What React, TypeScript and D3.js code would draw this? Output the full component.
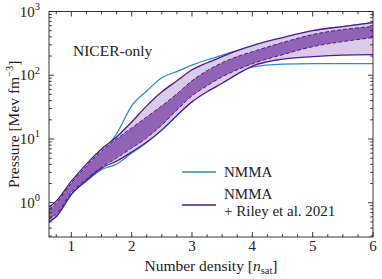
import * as d3 from 'd3'

// number density grid [n_sat]
const density = [0.63, 0.75, 1, 1.25, 1.5, 1.75, 2, 2.25, 2.5, 2.75, 3, 3.25, 3.5, 3.75, 4, 4.5, 5, 5.5, 6]

// NMMA + Riley et al. 2021, 95% band (solid) and 68% band (dashed)
const rileyOuterHi = [0.85, 1.06, 2.18, 4.04, 6.96, 10.75, 18.5, 33.1, 55, 81.9, 122, 157, 196, 243, 292, 390, 502, 581, 671]
const rileyOuterLo = [0.51, 0.61, 1.36, 2.26, 3.49, 4.5, 6.24, 8.97, 13.9, 23.4, 38.2, 55, 74.8, 104, 139, 179, 196, 207, 210]
const rileyInnerHi = [0.79, 0.98, 2.03, 3.76, 6.47, 10.0, 14.9, 22.2, 33.1, 51.1, 81.9, 118, 157, 196, 234, 325, 435, 521, 581]
const rileyInnerLo = [0.55, 0.66, 1.46, 2.34, 3.62, 5.02, 7.21, 10.4, 16.6, 28.6, 47.5, 68.4, 94.7, 122, 152, 210, 281, 337, 390]

// NMMA only envelope
const nmmaHi = [0.82, 1.02, 1.96, 3.62, 5.91, 12.0, 33.1, 56.7, 91.4, 114, 144, 175, 207, 243, 286, 383, 493, 581, 671]
const nmmaLo = [0.5, 0.6, 1.34, 2.18, 3.31, 4.04, 6.02, 8.81, 13.8, 23.6, 39.5, 56, 78, 108, 134, 149, 152, 152, 152]

const xTicks = [1, 2, 3, 4, 5, 6]
const yTicks = [0, 1, 2, 3]

const W = 382
const H = 279
const left = 49
const right = 373
const top = 11.5
const bottom = 237

const blue = '#2b8cc8'
const purple = '#4f1a8c'
const lightFill = '#dccbe8'
const darkFill = '#9163b5'
const serif = { fontFamily: 'Liberation Serif' }

export default function App() {
  const x = d3.scaleLinear([0.63, 6], [left, right])
  const y = d3.scaleLog([0.29, 1000], [bottom, top])

  const line = (vals: number[]) =>
    d3.line<number>((_, i) => x(density[i]), (v) => y(v)).curve(d3.curveMonotoneX)(vals) ?? undefined
  const band = (lo: number[], hi: number[]) =>
    d3
      .area<number>()
      .x((_, i) => x(density[i]))
      .y0((_, i) => y(lo[i]))
      .y1((_, i) => y(hi[i]))
      .curve(d3.curveMonotoneX)(lo) ?? undefined

  const xMinor = d3.range(0.75, 6.01, 0.25).filter((v) => Math.abs(v - Math.round(v)) > 1e-6)
  const yMinor: number[] = []
  for (let e = -1; e < 3; e++) for (let k = 2; k <= 9; k++) {
    const v = k * Math.pow(10, e)
    if (v >= 0.29) yMinor.push(v)
  }

  return (
    <svg width={W} height={H} style={{ position: 'absolute', left: 0, top: 0 }}>
      <defs>
        <clipPath id="plot">
          <rect x={left} y={top} width={right - left} height={bottom - top} />
        </clipPath>
      </defs>
      <g clipPath="url(#plot)">
        <path d={line(nmmaHi)} fill="none" stroke={blue} strokeWidth={1.3} />
        <path d={line(nmmaLo)} fill="none" stroke={blue} strokeWidth={1.3} />
        <path d={band(rileyOuterLo, rileyOuterHi)} fill={lightFill} />
        <path d={band(rileyInnerLo, rileyInnerHi)} fill={darkFill} />
        <path d={line(rileyOuterHi)} fill="none" stroke={purple} strokeWidth={1.3} />
        <path d={line(rileyOuterLo)} fill="none" stroke={purple} strokeWidth={1.3} />
        <path d={line(rileyInnerHi)} fill="none" stroke={purple} strokeWidth={1} strokeDasharray="4,2" />
        <path d={line(rileyInnerLo)} fill="none" stroke={purple} strokeWidth={1} strokeDasharray="4,2" />
      </g>

      {/* frame and inward ticks */}
      <g stroke="#222" strokeWidth={0.9}>
        <rect x={left} y={top} width={right - left} height={bottom - top} fill="none" />
        {xTicks.map((t) => (
          <g key={'xt' + t}>
            <line x1={x(t)} x2={x(t)} y1={bottom} y2={bottom - 5} />
            <line x1={x(t)} x2={x(t)} y1={top} y2={top + 5} />
          </g>
        ))}
        {xMinor.map((t) => (
          <g key={'xm' + t}>
            <line x1={x(t)} x2={x(t)} y1={bottom} y2={bottom - 2.8} />
            <line x1={x(t)} x2={x(t)} y1={top} y2={top + 2.8} />
          </g>
        ))}
        {yTicks.map((e) => (
          <g key={'yt' + e}>
            <line x1={left} x2={left + 5} y1={y(Math.pow(10, e))} y2={y(Math.pow(10, e))} />
            <line x1={right} x2={right - 5} y1={y(Math.pow(10, e))} y2={y(Math.pow(10, e))} />
          </g>
        ))}
        {yMinor.map((v) => (
          <g key={'ym' + v}>
            <line x1={left} x2={left + 2.8} y1={y(v)} y2={y(v)} />
            <line x1={right} x2={right - 2.8} y1={y(v)} y2={y(v)} />
          </g>
        ))}
      </g>

      <g fill="#222">
        {xTicks.map((t) => (
          <text key={'xl' + t} x={x(t)} y={bottom + 14} textAnchor="middle" fontSize={15} style={serif}>
            {t}
          </text>
        ))}
        {yTicks.map((e) => (
          <text key={'yl' + e} x={left - 9} y={y(Math.pow(10, e)) + 5} textAnchor="end" fontSize={15} style={serif}>
            10
            <tspan fontSize={10.5} dy={-6.5}>
              {e}
            </tspan>
          </text>
        ))}
        <text x={(left + right) / 2} y={271} textAnchor="middle" fontSize={15.5} style={serif}>
          Number density [<tspan fontStyle="italic">n</tspan>
          <tspan fontSize={10.5} dy={3}>sat</tspan>
          <tspan dy={-3}>]</tspan>
        </text>
        <text
          transform={`translate(19,${(top + bottom) / 2}) rotate(-90)`}
          textAnchor="middle"
          fontSize={15.5}
          style={serif}
        >
          Pressure [Mev fm
          <tspan fontSize={10.5} dy={-6}>−3</tspan>
          <tspan dy={6}>]</tspan>
        </text>
        <text x={73} y={56} fontSize={15.5} style={serif}>
          NICER-only
        </text>
      </g>

      {/* legend */}
      <g fill="#222">
        <line x1={182} x2={216} y1={172} y2={172} stroke={blue} strokeWidth={1.3} />
        <text x={224} y={177} fontSize={15} style={serif}>NMMA</text>
        <line x1={182} x2={216} y1={205} y2={205} stroke={purple} strokeWidth={1.3} />
        <text x={224} y={199} fontSize={15} style={serif}>NMMA</text>
        <text x={224} y={216} fontSize={15} style={serif}>+ Riley et al. 2021</text>
      </g>
    </svg>
  )
}
